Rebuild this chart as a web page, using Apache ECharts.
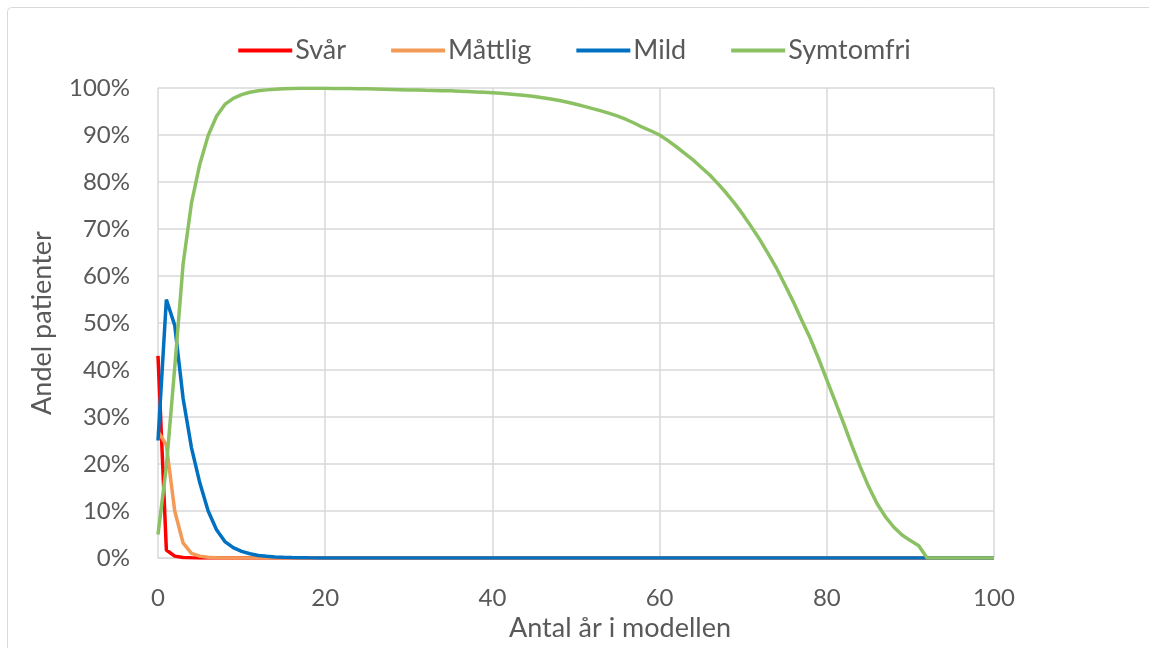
<!DOCTYPE html>
<html>
<head>
<meta charset="utf-8">
<script src="https://cdn.jsdelivr.net/npm/echarts@6/dist/echarts.min.js"></script>
<style>
  html, body { margin: 0; padding: 0; background: #fff; }
  #chart { width: 1149px; height: 648px; }
</style>
</head>
<body>
<div id="chart"></div>
<script>
// år 0..100 i modellen
const years = Array.from({ length: 101 }, (_, i) => i);

// andel patienter (%) per år
const svar = [43, 1.7, 0.4, 0.1, 0.05, 0.02, 0, 0, 0, 0,
  0, 0, 0, 0, 0, 0, 0, 0, 0, 0,
  0, 0, 0, 0, 0, 0, 0, 0, 0, 0,
  0, 0, 0, 0, 0, 0, 0, 0, 0, 0,
  0, 0, 0, 0, 0, 0, 0, 0, 0, 0,
  0, 0, 0, 0, 0, 0, 0, 0, 0, 0,
  0, 0, 0, 0, 0, 0, 0, 0, 0, 0,
  0, 0, 0, 0, 0, 0, 0, 0, 0, 0,
  0, 0, 0, 0, 0, 0, 0, 0, 0, 0,
  0, 0, 0, 0, 0, 0, 0, 0, 0, 0, 0];

const mattlig = [27, 24, 10, 3.2, 1.0, 0.4, 0.15, 0.05, 0, 0,
  0, 0, 0, 0, 0, 0, 0, 0, 0, 0,
  0, 0, 0, 0, 0, 0, 0, 0, 0, 0,
  0, 0, 0, 0, 0, 0, 0, 0, 0, 0,
  0, 0, 0, 0, 0, 0, 0, 0, 0, 0,
  0, 0, 0, 0, 0, 0, 0, 0, 0, 0,
  0, 0, 0, 0, 0, 0, 0, 0, 0, 0,
  0, 0, 0, 0, 0, 0, 0, 0, 0, 0,
  0, 0, 0, 0, 0, 0, 0, 0, 0, 0,
  0, 0, 0, 0, 0, 0, 0, 0, 0, 0, 0];

const mild = [25, 55, 49.5, 34, 23.5, 16, 10, 6, 3.5, 2.2,
  1.4, 0.9, 0.55, 0.35, 0.22, 0.14, 0.09, 0.05, 0.03, 0.02,
  0, 0, 0, 0, 0, 0, 0, 0, 0, 0,
  0, 0, 0, 0, 0, 0, 0, 0, 0, 0,
  0, 0, 0, 0, 0, 0, 0, 0, 0, 0,
  0, 0, 0, 0, 0, 0, 0, 0, 0, 0,
  0, 0, 0, 0, 0, 0, 0, 0, 0, 0,
  0, 0, 0, 0, 0, 0, 0, 0, 0, 0,
  0, 0, 0, 0, 0, 0, 0, 0, 0, 0,
  0, 0, 0, 0, 0, 0, 0, 0, 0, 0, 0];

const symtomfri = [5, 19.5, 40.5, 62.5, 75.5, 83.8, 89.9, 94, 96.5, 97.8,
  98.6, 99.1, 99.4, 99.6, 99.75, 99.85, 99.9, 99.93, 99.95, 99.95,
  99.94, 99.92, 99.9, 99.88, 99.85, 99.82, 99.78, 99.74, 99.7, 99.65,
  99.6, 99.55, 99.5, 99.46, 99.42, 99.4, 99.33, 99.25, 99.17, 99.08,
  98.98, 98.86, 98.72, 98.56, 98.38, 98.18, 97.94, 97.66, 97.34, 96.98,
  96.55, 96.1, 95.6, 95.13, 94.6, 94.0, 93.3, 92.5, 91.6, 90.85,
  90.0, 88.8, 87.5, 86.1, 84.7, 83.1, 81.5, 79.6, 77.6, 75.4,
  73.0, 70.4, 67.7, 64.7, 61.6, 58.1, 54.5, 50.6, 46.8, 42.5,
  37.9, 33.3, 28.7, 23.9, 19.4, 15.2, 11.6, 8.8, 6.6, 4.9,
  3.7, 2.6, 0, 0, 0, 0, 0, 0, 0, 0, 0];

const seriesNames = ['Svår', 'Måttlig', 'Mild', 'Symtomfri'];
const seriesColors = ['#ff0000', '#f39a57', '#0070c0', '#8cc163'];

const font = 'Lato, "Open Sans", sans-serif';
const textColor = '#595959';

function pairs(values) {
  return years.map((y, i) => [y, values[i]]);
}

const chart = echarts.init(document.getElementById('chart'));
const option = {
  backgroundColor: '#ffffff',
  animation: false,
  textStyle: { fontFamily: font },
  graphic: [{
    type: 'rect',
    shape: { x: 7.5, y: 7.5, width: 1200, height: 700, r: 4 },
    style: { fill: 'none', stroke: '#d9d9d9', lineWidth: 1 },
    silent: true
  }],
  legend: {
    top: 32,
    left: 'center',
    itemWidth: 54,
    itemHeight: 4,
    itemGap: 45,
    icon: 'rect',
    textStyle: { color: textColor, fontSize: 27, fontFamily: font, padding: [0, 0, 0, -2] },
    data: seriesNames
  },
  grid: { left: 158, right: 155, top: 88, bottom: 90 },
  xAxis: {
    type: 'value',
    min: 0,
    max: 100,
    interval: 20,
    name: 'Antal år i modellen',
    nameLocation: 'middle',
    nameGap: 54,
    nameTextStyle: { color: textColor, fontSize: 27, fontFamily: font, padding: [0, 0, 0, 88] },
    axisLine: { show: true, lineStyle: { color: '#d9d9d9', width: 1 } },
    axisTick: { show: false },
    axisLabel: { color: textColor, fontSize: 24, fontFamily: font, margin: 28 },
    splitLine: { show: true, lineStyle: { color: '#d9d9d9', width: 1.5 } }
  },
  yAxis: {
    type: 'value',
    min: 0,
    max: 100,
    interval: 10,
    name: 'Andel patienter',
    nameLocation: 'middle',
    nameGap: 102,
    nameTextStyle: { color: textColor, fontSize: 27, fontFamily: font },
    axisLine: { show: false },
    axisTick: { show: false },
    axisLabel: { color: textColor, fontSize: 24, fontFamily: font, margin: 28, formatter: '{value}%' },
    splitLine: { show: true, lineStyle: { color: '#d9d9d9', width: 1.5 } }
  },
  series: [svar, mattlig, mild, symtomfri].map((vals, k) => ({
    name: seriesNames[k],
    type: 'line',
    data: pairs(vals),
    showSymbol: false,
    smooth: false,
    color: seriesColors[k],
    lineStyle: { width: 3.5, color: seriesColors[k] },
    z: 2 + k
  }))
};
chart.setOption(option);
</script>
</body>
</html>
